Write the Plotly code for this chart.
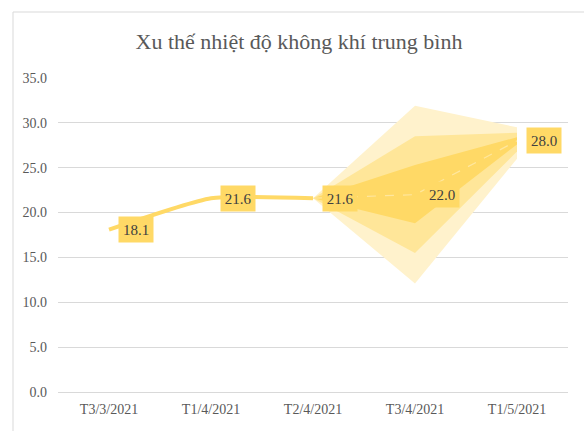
import plotly.graph_objects as go

categories = ["T3/3/2021", "T1/4/2021", "T2/4/2021", "T3/4/2021", "T1/5/2021"]
actual = [18.1, 21.6, 21.6, None, None]
forecast = [None, None, 21.6, 22.0, 28.0]
label_values = [18.1, 21.6, 21.6, 22.0, 28.0]

fan_cats = ["T2/4/2021", "T3/4/2021", "T1/5/2021"]
outer_upper = [21.6, 31.9, 29.5]
outer_lower = [21.6, 12.1, 26.0]
middle_upper = [21.6, 28.5, 28.9]
middle_lower = [21.6, 15.5, 26.8]
inner_upper = [21.6, 25.3, 28.4]
inner_lower = [21.6, 18.8, 27.6]

y_ticks = [0, 5, 10, 15, 20, 25, 30, 35]

fig = go.Figure()

bands = [
    (outer_upper, outer_lower, "#FFF2CC"),
    (middle_upper, middle_lower, "#FFE699"),
    (inner_upper, inner_lower, "#FFD966"),
]
for up, lo, col in bands:
    fig.add_trace(go.Scatter(
        x=fan_cats + fan_cats[::-1],
        y=up + lo[::-1],
        fill="toself", fillcolor=col,
        line=dict(width=0, color=col),
        mode="lines", hoverinfo="skip", showlegend=False,
    ))

fig.add_trace(go.Scatter(
    x=categories, y=forecast, mode="lines",
    line=dict(color="rgba(255,242,204,0.55)", width=1.2, dash="dash"),
    showlegend=False,
))
fig.add_trace(go.Scatter(
    x=categories, y=actual, mode="lines",
    line=dict(color="#FFD966", width=4, shape="spline", smoothing=0.5),
    showlegend=False,
))

for c, v in zip(categories, label_values):
    fig.add_annotation(
        x=c, y=v, text=f"{v:.1f}", showarrow=False, xshift=27,
        bgcolor="#FFD966", borderpad=3, width=28, height=19,
        font=dict(family="Liberation Serif", size=15, color="#404040"),
    )

# chart border
fig.add_shape(
    type="rect", xref="paper", yref="paper",
    x0=(13 - 58) / 510, x1=(600 - 58) / 510,
    y0=(392 - 445) / 314, y1=(392 - 12) / 314,
    line=dict(color="#D9D9D9", width=1), fillcolor="rgba(0,0,0,0)", layer="below",
)

fig.update_layout(
    width=584, height=431,
    margin=dict(l=58, r=16, t=78, b=39),
    paper_bgcolor="white", plot_bgcolor="white",
    title=dict(
        text="Xu thế nhiệt độ không khí trung bình",
        x=299 / 584, xanchor="center", xref="container",
        y=1 - 41 / 431, yanchor="middle", yref="container",
        font=dict(family="Liberation Serif", size=22, color="#595959"),
    ),
    font=dict(family="Liberation Serif", size=14, color="#595959"),
    showlegend=False,
)
fig.update_xaxes(
    type="category", categoryorder="array", categoryarray=categories,
    range=[-0.5, 4.5], showgrid=False, showline=True, linecolor="#D9D9D9",
    linewidth=1, ticks="", ticklabelstandoff=4,
    tickfont=dict(family="Liberation Serif", size=14, color="#595959"),
)
fig.update_yaxes(
    range=[0, 35], tickvals=y_ticks, tickformat=".1f",
    showgrid=True, gridcolor="#D9D9D9", gridwidth=1, zeroline=False,
    showline=False, ticks="", ticklabelstandoff=10,
    tickfont=dict(family="Liberation Serif", size=14, color="#595959"),
)

fig.write_html(
    "out.html",
    config={"displayModeBar": False},
    post_script="document.body.style.margin='0';document.body.style.overflow='hidden';",
)
